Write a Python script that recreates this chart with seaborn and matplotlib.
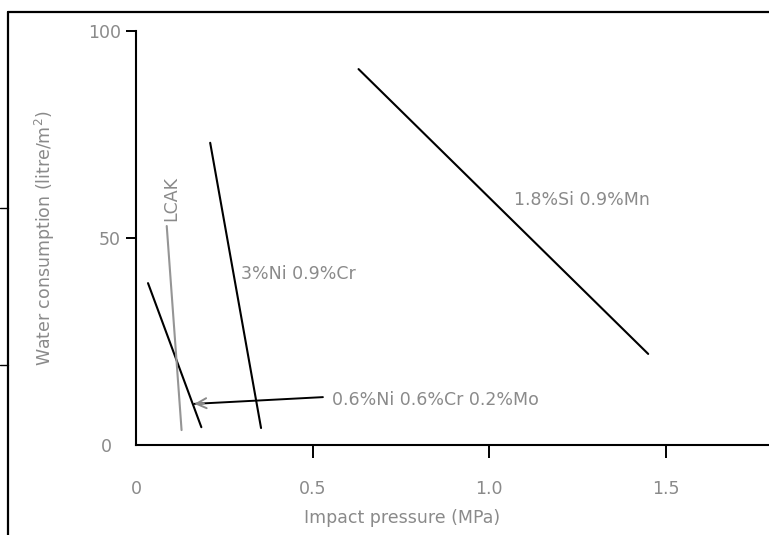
import matplotlib
matplotlib.use("Agg")
import matplotlib.pyplot as plt
from matplotlib.lines import Line2D
import seaborn as sns
import pandas as pd

# values
alloys = ["1.8%Si 0.9%Mn", "3%Ni 0.9%Cr", "0.6%Ni 0.6%Cr 0.2%Mo", "LCAK"]
x_start = [0.63, 0.21, 0.034, 0.087]
x_end = [1.45, 0.354, 0.185, 0.129]
y_start = [90.8, 73.0, 39.1, 52.9]
y_end = [22.0, 4.1, 4.3, 3.6]
line_colors = ["black", "black", "black", "#959595"]

x_ticks = [0, 0.5, 1.0, 1.5]
x_ticklabels = ["0", "0.5", "1.0", "1.5"]
y_ticks = [0, 50, 100]
y_ticklabels = ["0", "50", "100"]

grey = "#8a8a8a"
fs = 12.5

sns.set_theme(style="ticks")
plt.rcParams["font.family"] = ["DejaVu Sans"]

rows = []
for name, x0, x1, y0, y1 in zip(alloys, x_start, x_end, y_start, y_end):
    rows.append({"alloy": name, "pressure": x0, "water": y0})
    rows.append({"alloy": name, "pressure": x1, "water": y1})
df = pd.DataFrame(rows)

fig = plt.figure(figsize=(7.69, 5.35), dpi=100)
ax = fig.add_axes([136 / 769, 90 / 535, 633 / 769, 414 / 535])

sns.lineplot(data=df, x="pressure", y="water", hue="alloy",
             palette=dict(zip(alloys, line_colors)), linewidth=1.5,
             legend=False, ax=ax, estimator=None, sort=False)

ax.set_xlim(0.014, 1.792)
ax.set_ylim(0, 100)
ax.set_xticks(x_ticks)
ax.set_xticklabels(x_ticklabels)
ax.set_yticks(y_ticks)
ax.set_yticklabels(y_ticklabels)
ax.tick_params(axis="x", length=9.5, width=1.4, pad=16, colors="black",
               labelcolor=grey, labelsize=fs)
ax.tick_params(axis="y", length=7, width=1.4, pad=4, colors="black",
               labelcolor=grey, labelsize=fs)
ax.xaxis.get_major_ticks()[0].tick1line.set_visible(False)
ax.yaxis.get_major_ticks()[0].tick1line.set_visible(False)
ax.yaxis.get_major_ticks()[0].label1.set_position((-0.014, 0))

for s in ["top", "right"]:
    ax.spines[s].set_visible(False)
for s in ["left", "bottom"]:
    ax.spines[s].set_linewidth(1.5)
    ax.spines[s].set_color("black")

ax.set_xlabel("Impact pressure (MPa)", color=grey, fontsize=fs)
ax.xaxis.set_label_coords(0.42, -0.155)
ax.set_ylabel("Water consumption (litre/m$^2$)", color=grey, fontsize=fs)
ax.yaxis.set_label_coords(-0.125, 0.5)

# labels on the curves
ax.text(1.07, 59.2, alloys[0], color=grey, fontsize=fs, ha="left", va="center")
ax.text(0.298, 41.3, alloys[1], color=grey, fontsize=fs, ha="left", va="center")
ax.text(0.556, 10.9, alloys[2], color=grey, fontsize=fs, ha="left", va="center")
ax.text(0.101, 59.5, alloys[3], color=grey, fontsize=fs, ha="center", va="center",
        rotation=90)

# pointer to the 0.6%Ni line
ax.annotate("", xy=(0.157, 9.9), xytext=(0.537, 11.6),
            arrowprops=dict(arrowstyle="-", color="black", lw=1.4))
ax.annotate("", xy=(0.157, 9.9), xytext=(0.2, 10.1),
            arrowprops=dict(arrowstyle="->", color=grey, lw=1.4,
                            mutation_scale=18))

# outer frame of the scanned figure
fx, fy = 8 / 769, 1 - 12 / 535
fig.add_artist(Line2D([fx, fx], [0, fy], color="black", lw=1.6,
                      transform=fig.transFigure))
fig.add_artist(Line2D([fx, 1], [fy, fy], color="black", lw=1.6,
                      transform=fig.transFigure))
for py in [208, 365]:
    fig.add_artist(Line2D([0, fx], [1 - py / 535, 1 - py / 535], color="black",
                          lw=1.0, transform=fig.transFigure))

fig.savefig("out.png", dpi=100)
